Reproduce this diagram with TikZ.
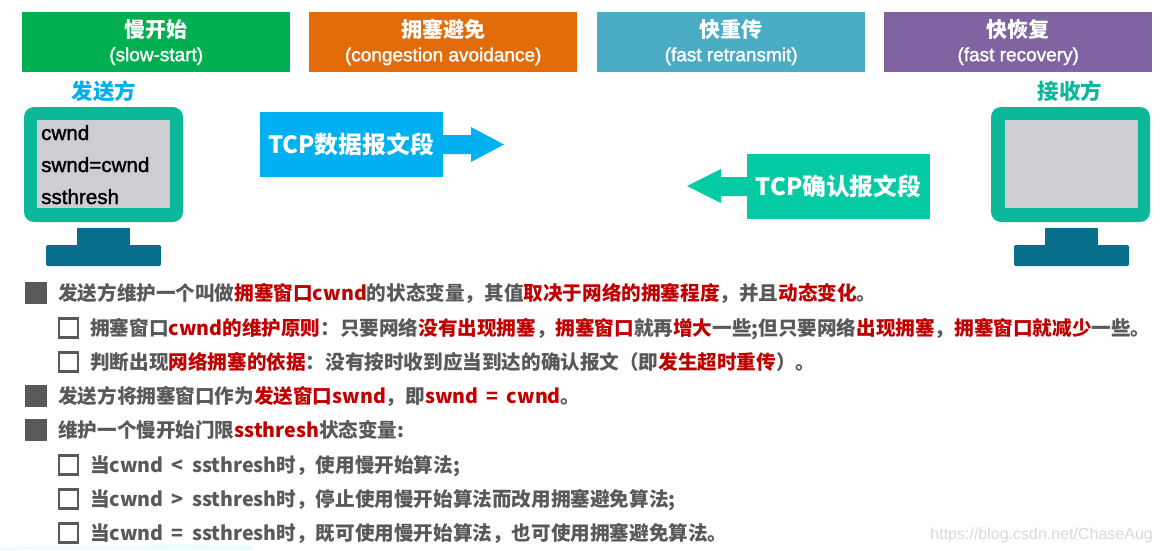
\documentclass[tikz,border=0pt]{standalone}
\usepackage{fontspec}
\setmainfont{Noto Sans CJK SC}
\newfontfamily\arialf{Liberation Sans}
\newfontfamily\arialm[FakeBold=1.5]{Liberation Sans}
\definecolor{hgreen}{HTML}{00B050}
\definecolor{horange}{HTML}{E36C0A}
\definecolor{hblue}{HTML}{4BACC6}
\definecolor{hpurple}{HTML}{8064A2}
\definecolor{teal1}{HTML}{0DB89A}
\definecolor{screen1}{HTML}{CDCED2}
\definecolor{stand1}{HTML}{076F8C}
\definecolor{sky1}{HTML}{00B0F0}
\definecolor{mint1}{HTML}{05CBA5}
\definecolor{gtext}{HTML}{595959}
\definecolor{rtext}{HTML}{C00000}
\definecolor{bul}{HTML}{595959}
\newcommand{\RR}[1]{\textcolor{rtext}{#1}}
\newcommand{\SP}{\hspace{0.42em}}
\newcommand{\hdr}[2]{{\bfseries\fontsize{21}{25}\selectfont #1}\\[7pt]{\arialm\fontsize{19}{23}\selectfont #2}}
\tikzset{x=1pt,y=-1pt,
  header/.style={minimum width=268pt,minimum height=60pt,inner sep=0pt,text=white,align=center,anchor=north west},
  body/.style={anchor=base west,inner sep=0pt,text=gtext,font=\bfseries\fontsize{19.6}{22}\selectfont},
  filledbul/.style={fill=bul,draw=none,minimum width=22pt,minimum height=22pt,inner sep=0pt},
  hollowbul/.style={draw=bul,line width=2.6pt,fill=white,minimum width=19pt,minimum height=19pt,inner sep=0pt},
  mon/.style={fill=teal1,rounded corners=10pt},
  scr/.style={fill=screen1},
  stand/.style={fill=stand1},
  monfont/.style={anchor=base west,inner sep=0pt,text=black,font=\arialm\fontsize{20.6}{25}\selectfont},
  who/.style={inner sep=0pt,font=\bfseries\fontsize{21.5}{24}\selectfont},
  seg/.style={inner sep=0pt,text=white,minimum width=183pt,minimum height=65pt,font=\bfseries\fontsize{23.8}{30}\selectfont}
}
\begin{document}
\begin{tikzpicture}
\useasboundingbox (0,0) rectangle (1160,550);
\fill[white] (0,0) rectangle (1160,550);
% faint band bottom-left
\fill[blue!6!cyan!8!white] (0,548) .. controls (60,544) and (120,548) .. (150,545) .. controls (190,543) and (220,546) .. (252,545) -- (252,550) -- (0,550) -- cycle;
% headers
\node[header,fill=hgreen] (h1) at (22,12) {\hdr{慢开始}{(slow-start)}};
\node[header,fill=horange] (h2) at (309,12) {\hdr{拥塞避免}{(congestion avoidance)}};
\node[header,fill=hblue] (h3) at (597,12) {\hdr{快重传}{(fast retransmit)}};
\node[header,fill=hpurple] (h4) at (884,12) {\hdr{快恢复}{(fast recovery)}};
% sender
\node[who,text=sky1] (snd) at (104,91) {发送方};
\fill[mon] (24,107) rectangle (183,222);
\fill[scr] (37,120) rectangle (170,208);
\fill[stand] (77,228) rectangle (130,248);
\fill[stand,rounded corners=2pt] (46,245) rectangle (161,266);
\node[monfont] (t1) at (41,140) {cwnd};
\node[monfont] (t2) at (41,172) {swnd=cwnd};
\node[monfont] (t3) at (41,204) {ssthresh};
% receiver
\node[who,text=teal1] (rcv) at (1070,91) {接收方};
\fill[mon] (991,107) rectangle (1150,222);
\fill[scr] (1005,120) rectangle (1138,208);
\fill[stand] (1045,228) rectangle (1098,248);
\fill[stand,rounded corners=2pt] (1014,245) rectangle (1129,266);
% segments
\fill[sky1] (440,135) -- (471,135) -- (471,127) -- (504,144.5) -- (471,162) -- (471,154) -- (440,154) -- cycle;
\node[seg,fill=sky1] (tcpd) at (351,144.5) {TCP数据报文段};
\fill[mint1] (750,177) -- (721,177) -- (721,169) -- (687,186) -- (721,203) -- (721,196) -- (750,196) -- cycle;
\node[seg,fill=mint1] (tcpa) at (838.5,186) {TCP确认报文段};
% bullets
\node[filledbul] (b1) at (36,293) {};
\node[hollowbul] (b2) at (68.5,328) {};
\node[hollowbul] (b3) at (68.5,362) {};
\node[filledbul] (b4) at (36,396) {};
\node[filledbul] (b5) at (36,430) {};
\node[hollowbul] (b6) at (68.5,465) {};
\node[hollowbul] (b7) at (68.5,499) {};
\node[hollowbul] (b8) at (68.5,533) {};
% text
\node[body] (l1) at (58,300) {发送方维护一个叫做\RR{拥塞窗口cwnd}的状态变量，其值\RR{取决于网络的拥塞程度}，并且\RR{动态变化}。};
\node[body] (l2) at (90,335) {拥塞窗口\RR{cwnd的维护原则}：只要网络\RR{没有出现拥塞}，\RR{拥塞窗口}就再\RR{增大}一些;但只要网络\RR{出现拥塞}，\RR{拥塞窗口就减少}一些。};
\node[body] (l3) at (90,369) {判断出现\RR{网络拥塞的依据}：没有按时收到应当到达的确认报文（即\RR{发生超时重传}）。};
\node[body] (l4) at (58,403) {发送方将拥塞窗口作为\RR{发送窗口swnd}，即\RR{swnd\SP=\SP cwnd}。};
\node[body] (l5) at (58,437) {维护一个慢开始门限\RR{ssthresh}状态变量:};
\node[body] (l6) at (90,472) {当cwnd\SP<\SP ssthresh时，使用慢开始算法;};
\node[body] (l7) at (90,506) {当cwnd\SP>\SP ssthresh时，停止使用慢开始算法而改用拥塞避免算法;};
\node[body] (l8) at (90,540) {当cwnd\SP=\SP ssthresh时，既可使用慢开始算法，也可使用拥塞避免算法。};
\node[anchor=base east,inner sep=0pt,text=black!15,font=\arialf\fontsize{16}{18}\selectfont] (wm) at (1153,539) {https://blog.csdn.net/ChaseAug};
\end{tikzpicture}
\end{document}
